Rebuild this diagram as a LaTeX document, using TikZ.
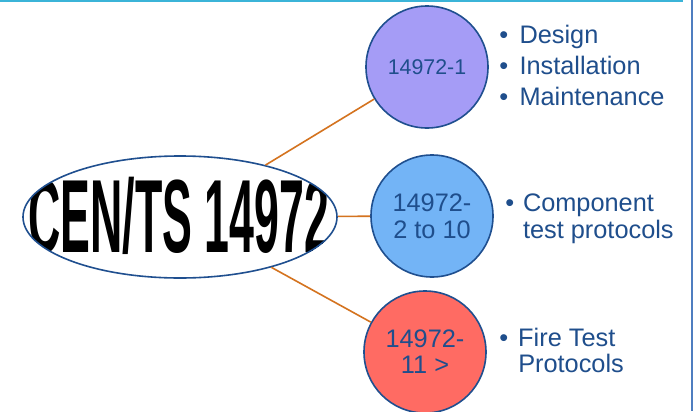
\documentclass[tikz,border=0pt]{standalone}
\usepackage{fontspec}
\setmainfont{Liberation Sans}
\usepackage{tikz}
\usetikzlibrary{shapes.geometric}

\definecolor{tblue}{HTML}{1F4E8C}
\definecolor{rimblue}{HTML}{1F4F8F}
\definecolor{lilac}{HTML}{A59CF6}
\definecolor{skyblue}{HTML}{73B4F6}
\definecolor{salmon}{HTML}{FF6B63}
\definecolor{linkorange}{HTML}{D4731F}
\definecolor{topcyan}{HTML}{3BB4D8}
\definecolor{sideblue}{HTML}{4F7EC0}

\tikzset{
  part/.style={circle, draw=rimblue, line width=1.2pt, minimum size=91.5pt,
    inner sep=0pt, text=tblue, align=center},
  link/.style={draw=linkorange, line width=1.2pt},
  bul/.style={anchor=west, text=tblue, inner sep=0pt,
    font=\fontsize{19}{23}\selectfont}
}

\begin{document}
\begin{tikzpicture}[x=0.75pt,y=-0.75pt]
	\useasboundingbox (0,0) rectangle (693,411);
	%\draw [help lines,step=50] (0,0) grid (693,411);
	\fill [white] (0,0) rectangle (693,411);
	\draw [topcyan, line width=1.5pt] (0,0.75) -- (683,0.75);
	\fill [sideblue] (690.5,0) rectangle (693,411);

	% main title
	\node [ellipse, draw=rimblue, line width=1.2pt, fill=white, inner sep=0pt,
	       minimum width=235.5pt, minimum height=91.5pt,
	       path picture={\node at ([xshift=-1pt,yshift=0.5pt]path picture bounding box.center)
	         {\scalebox{0.43}[1]{\fontsize{78}{78}\selectfont\bfseries CEN/TS 14972}};}]
	       (cen) at (180,217) {};

	% the three parts
	\node [part, fill=lilac, font=\fontsize{16}{19}\selectfont] (p1) at (427,67) {14972-1};
	\node [part, fill=skyblue, font=\fontsize{19}{20}\selectfont] (p2) at (432,216) {14972-\\2 to 10};
	\node [part, fill=salmon, font=\fontsize{19}{19.5}\selectfont] (p3) at (425,352) {14972-\\11 >};

	\path [link] (cen) -- (p1);
	\path [link] (cen) -- (p2);
	\path [link] (cen) -- (p3);

	% bullet lists
	\node [bul] (l1) at (499,68) {\renewcommand{\arraystretch}{1.01}%
	  \begin{tabular}{@{}l@{\hspace{0.45em}}l@{}}
	    \textbullet & Design\\
	    \textbullet & Installation\\
	    \textbullet & Maintenance
	  \end{tabular}};
	\node [bul] (l2) at (505,219.5) {\renewcommand{\arraystretch}{0.87}%
	  \begin{tabular}{@{}l@{\hspace{0.35em}}l@{}}
	    \textbullet & Component\\
	        & test protocols
	  \end{tabular}};
	\node [bul] (l3) at (499,354.5) {\renewcommand{\arraystretch}{0.84}%
	  \begin{tabular}{@{}l@{\hspace{0.4em}}l@{}}
	    \textbullet & Fire Test\\
	        & Protocols
	  \end{tabular}};
\end{tikzpicture}
\end{document}
